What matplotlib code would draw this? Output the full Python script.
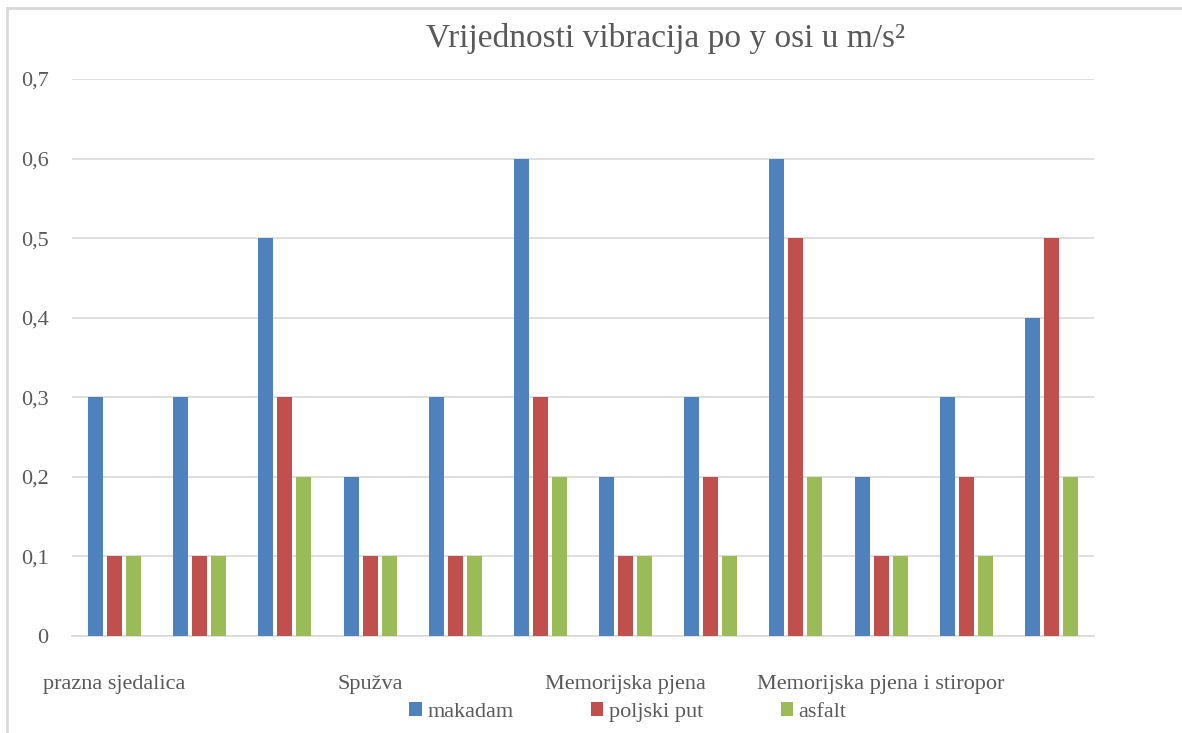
import numpy as np
import matplotlib
matplotlib.use('Agg')
from matplotlib import pyplot as plt
from matplotlib.lines import Line2D

# chart data
categories = ['prazna sjedalica', '', '', 'Spužva', '', '',
              'Memorijska pjena', '', '', 'Memorijska pjena i stiropor', '', '']
series = ['makadam', 'poljski put', 'asfalt']
makadam = [0.3, 0.3, 0.5, 0.2, 0.3, 0.6, 0.2, 0.3, 0.6, 0.2, 0.3, 0.4]
poljski_put = [0.1, 0.1, 0.3, 0.1, 0.1, 0.3, 0.1, 0.2, 0.5, 0.1, 0.2, 0.5]
asfalt = [0.1, 0.1, 0.2, 0.1, 0.1, 0.2, 0.1, 0.1, 0.2, 0.1, 0.1, 0.2]
yticks = [0, 0.1, 0.2, 0.3, 0.4, 0.5, 0.6, 0.7]

colors = ['#4F81BD', '#C0504D', '#9BBB59']
txt = '#595959'
grid = '#D9D9D9'

plt.rcParams['font.family'] = ['Liberation Serif', 'DejaVu Serif']

fig = plt.figure(figsize=(11.82, 7.33), dpi=100)
ax = fig.add_axes([72/1182, 1-636/733, 1022/1182, (636-79)/733])

x = np.arange(len(categories))
w = 0.176
step = 0.223
for i, (vals, name) in enumerate(zip([makadam, poljski_put, asfalt], series)):
	ax.bar(x + (i-1)*step, vals, width=w, color=colors[i], label=name, zorder=3)

ax.set_xlim(-0.5, len(categories)-0.5)
ax.set_ylim(0, 0.7)
ax.set_yticks(yticks)
ax.set_yticklabels([f'{v:.1f}'.replace('.', ',') if v else '0' for v in yticks])
ax.set_xticks(x)
ax.set_xticklabels(categories)
ax.tick_params(axis='both', length=0, labelsize=16, colors=txt)
ax.tick_params(axis='y', pad=17)
ax.tick_params(axis='x', pad=28)
ax.yaxis.grid(True, color=grid, linewidth=1.2, zorder=0)
for s in ['top', 'right', 'left']:
	ax.spines[s].set_visible(False)
ax.spines['bottom'].set_color(grid)
ax.spines['bottom'].set_linewidth(1.2)

fig.text(665/1182, 1-38/733, 'Vrijednosti vibracija po y osi u m/s²', ha='center', va='center',
		 fontsize=24, color=txt)

fig.legend(loc='center', bbox_to_anchor=(628/1182, 1-712/733), ncol=3, frameon=False,
		   prop={'family': 'Liberation Serif', 'size': 16}, labelcolor=txt,
		   handlelength=0.55, handleheight=0.55, handletextpad=0.25, columnspacing=3.5)

# outer chart frame
fig.add_artist(Line2D([7/1182, 7/1182], [0, 1-8/733], color=grid, linewidth=2))
fig.add_artist(Line2D([7/1182, 1], [1-8/733, 1-8/733], color=grid, linewidth=2))

fig.savefig('out.png', dpi=100)
